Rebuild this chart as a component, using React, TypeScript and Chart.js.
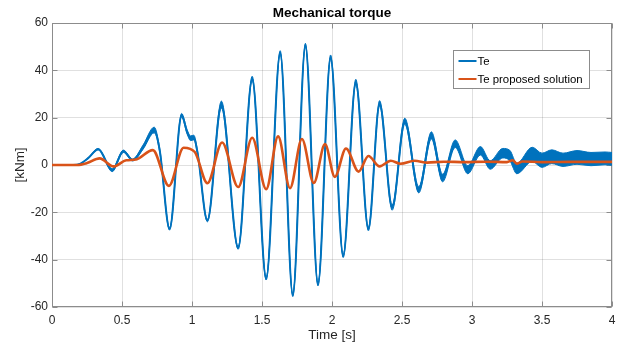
import React, { useEffect, useRef } from "react";
import { Chart, registerables } from "chart.js";

Chart.register(...registerables);

// ---- text ----
const TITLE = "Mechanical torque";
const X_LABEL = "Time [s]";
const Y_LABEL = "[kNm]";
const TE_LABEL = "Te";
const PROP_LABEL = "Te proposed solution";

// ---- axes ----
const xTicks = [0, 0.5, 1, 1.5, 2, 2.5, 3, 3.5, 4];
const yTicks = [-60, -40, -20, 0, 20, 40, 60];

// ---- Te (original) : time [s], torque [kNm], high-frequency ripple half-amplitude [kNm] ----
const teTime = [
  0, 0.15, 0.2, 0.26, 0.33, 0.43, 0.51, 0.576, 0.65, 0.73, 0.77, 0.84,
  0.926, 0.965, 0.99, 1.013, 1.04, 1.11, 1.21, 1.33, 1.43, 1.53, 1.63, 1.72,
  1.81, 1.9, 1.99, 2.08, 2.17, 2.26, 2.34, 2.43, 2.52, 2.62, 2.71, 2.79,
  2.88, 2.97, 3.06, 3.13, 3.22, 3.27, 3.32, 3.43, 3.5, 3.57, 3.65, 3.75,
  3.85, 3.95, 4.0,
];
const teValue = [
  0, 0, 0.5, 3, 6.7, -2.2, 5.8, 2.1, 7.5, 14.8, 6, -27,
  21, 14, 11.3, 11.6, 5, -23.5, 25.5, -35, 36.5, -48, 47.5, -55,
  50.6, -50.5, 45.5, -38.5, 35, -27, 26, -18, 18.5, -10.5, 12.5, -5.5,
  9, -2, 6, 0, 5, 4, -1.5, 4.5, 2, 3.5, 2.2, 3.2,
  2.5, 2.8, 2.6,
];
const teRipple = [
  0, 0, 0, 0.2, 0.3, 0.6, 0.5, 0.4, 0.9, 1.2, 0.8, 0.5,
  0.8, 0.9, 1.0, 1.0, 0.8, 0.5, 1.5, 0.6, 1.0, 0.6, 0.8, 0.6,
  0.8, 0.6, 1.0, 0.6, 1.2, 0.8, 1.2, 1.1, 1.3, 1.3, 1.5, 1.6,
  1.6, 1.7, 1.8, 1.8, 2.0, 2.2, 2.2, 3.0, 3.0, 2.9, 2.8, 2.9,
  2.8, 2.7, 2.7,
];

// ---- Te proposed solution ----
const propTime = [
  0, 0.18, 0.25, 0.34, 0.44, 0.53, 0.6, 0.72, 0.835, 0.94, 1.02, 1.11,
  1.215, 1.33, 1.43, 1.53, 1.615, 1.7, 1.785, 1.87, 1.95, 2.02, 2.1, 2.19,
  2.26, 2.34, 2.42, 2.49, 2.59, 2.68, 2.8, 2.95, 3.1, 3.25, 3.29, 3.32,
  3.36, 3.5, 3.7, 4.0,
];
const propValue = [
  0, 0, 0.8, 2.8, -0.6, 2.0, 2.3, 6.3, -8.8, 7.3, 5.5, -7.7,
  9.5, -9.3, 11.5, -10.2, 12.1, -9.8, 11.0, -7.6, 8.8, -5.0, 7.0, -2.8,
  3.8, -0.6, 1.8, 0.5, 1.8, 1.0, 1.4, 1.2, 1.4, 1.2, 2.0, 0.6,
  1.5, 1.2, 1.3, 1.3,
];

// ---- style ----
const FONT = "'Liberation Sans', Arial, Helvetica, sans-serif";
const BLUE = "#0072BD";
const ORANGE = "#D95319";
const GRID = "rgba(0,0,0,0.12)";
const FRAME = "#8c8c8c";
const TEXT = "#262626";

const framePlugin = {
  id: "matlabFrame",
  beforeDatasetsDraw(chart: any) {
    const { ctx, chartArea: a, scales } = chart;
    const L = Math.round(a.left) + 0.5;
    const R = Math.round(a.right) - 0.5;
    const T = Math.round(a.top) + 0.5;
    const B = Math.round(a.bottom) - 0.5;
    ctx.save();
    ctx.strokeStyle = FRAME;
    ctx.lineWidth = 1;
    ctx.strokeRect(L, T, R - L, B - T);
    const tl = 5;
    ctx.beginPath();
    for (const v of xTicks) {
      const p = Math.round(scales.x.getPixelForValue(v)) + 0.5;
      ctx.moveTo(p, B);
      ctx.lineTo(p, B - tl);
      ctx.moveTo(p, T);
      ctx.lineTo(p, T + tl);
    }
    for (const v of yTicks) {
      const p = Math.round(scales.y.getPixelForValue(v)) + 0.5;
      ctx.moveTo(L, p);
      ctx.lineTo(L + tl, p);
      ctx.moveTo(R, p);
      ctx.lineTo(R - tl, p);
    }
    ctx.stroke();
    ctx.restore();
  },
};

const legendPlugin = {
  id: "matlabLegend",
  afterDraw(chart: any) {
    const { ctx, chartArea: a } = chart;
    const items = chart.data.datasets.filter((d: any) => d.label);
    const w = 136;
    const h = 38;
    const x0 = Math.round(a.right - 23 - w) + 0.5;
    const y0 = Math.round(a.top + 27) + 0.5;
    ctx.save();
    ctx.fillStyle = "#ffffff";
    ctx.fillRect(x0, y0, w, h);
    ctx.strokeStyle = FRAME;
    ctx.lineWidth = 1;
    ctx.strokeRect(x0, y0, w, h);
    ctx.font = `11.4px ${FONT}`;
    ctx.textBaseline = "middle";
    ctx.textAlign = "left";
    items.forEach((d: any, i: number) => {
      const y = y0 + 10.5 + i * 18;
      ctx.strokeStyle = d.borderColor;
      ctx.lineWidth = 2;
      ctx.beginPath();
      ctx.moveTo(x0 + 5, y);
      ctx.lineTo(x0 + 23, y);
      ctx.stroke();
      ctx.fillStyle = "#000";
      ctx.fillText(d.label, x0 + 24, y + 0.5);
    });
    ctx.restore();
  },
};

export default function App() {
  const ref = useRef<HTMLCanvasElement>(null);

  useEffect(() => {
    const canvas = ref.current;
    if (!canvas) return;
    Chart.defaults.font.family = FONT;

    const teMain = teTime.map((t, i) => ({ x: t, y: teValue[i] }));
    const teUpper = teTime.map((t, i) => ({ x: t, y: teValue[i] + teRipple[i] }));
    const teLower = teTime.map((t, i) => ({ x: t, y: teValue[i] - teRipple[i] }));
    const prop = propTime.map((t, i) => ({ x: t, y: propValue[i] }));

    const chart = new Chart(canvas, {
      type: "line",
      data: {
        datasets: [
          {
            label: TE_LABEL,
            data: teMain,
            borderColor: BLUE,
            borderWidth: 2,
            fill: false,
            order: 1,
          },
          {
            label: "",
            data: teUpper,
            borderColor: BLUE,
            borderWidth: 1,
            fill: false,
            order: 2,
          },
          {
            label: "",
            data: teLower,
            borderColor: BLUE,
            backgroundColor: BLUE,
            borderWidth: 1,
            fill: "-1",
            order: 3,
          },
          {
            label: PROP_LABEL,
            data: prop,
            borderColor: ORANGE,
            borderWidth: 2.6,
            fill: false,
            order: 0,
          },
        ],
      },
      options: {
        responsive: false,
        animation: false,
        events: [],
        layout: { padding: { left: 0, right: 14, top: 0, bottom: 0 } },
        elements: {
          point: { radius: 0 },
          line: { cubicInterpolationMode: "monotone" },
        },
        plugins: {
          legend: { display: false },
          tooltip: { enabled: false },
          title: {
            display: true,
            text: TITLE,
            fullSize: false,
            color: "#000",
            font: { size: 13.5, weight: "bold", family: FONT },
            padding: { top: 5.2, bottom: 1.6 },
          },
        },
        scales: {
          x: {
            type: "linear",
            min: 0,
            max: 4,
            afterBuildTicks: (s: any) => {
              s.ticks = xTicks.map((v) => ({ value: v }));
            },
            afterFit: (s: any) => {
              s.height = 42;
            },
            ticks: {
              color: TEXT,
              font: { size: 12, family: FONT },
              padding: 6,
              maxRotation: 0,
              autoSkip: false,
              callback: (v: any) => String(v),
            },
            grid: { color: GRID, drawTicks: false },
            border: { display: false },
            title: {
              display: true,
              text: X_LABEL,
              color: TEXT,
              font: { size: 13.5, family: FONT },
              padding: { top: 0, bottom: 5.9 },
            },
          },
          y: {
            type: "linear",
            min: -60,
            max: 60,
            afterBuildTicks: (s: any) => {
              s.ticks = yTicks.map((v) => ({ value: v }));
            },
            afterFit: (s: any) => {
              s.width = 52;
            },
            ticks: {
              color: TEXT,
              font: { size: 12, family: FONT },
              padding: 4,
              autoSkip: false,
              callback: (v: any) => String(v),
            },
            grid: { color: GRID, drawTicks: false },
            border: { display: false },
            title: {
              display: true,
              text: Y_LABEL,
              color: TEXT,
              font: { size: 13.5, family: FONT },
              padding: { top: 11.9, bottom: 0 },
            },
          },
        },
      },
      plugins: [framePlugin, legendPlugin],
    } as any);

    return () => chart.destroy();
  }, []);

  return (
    <div
      style={{
        position: "absolute",
        left: 0,
        top: 0,
        width: 626,
        height: 349,
        background: "#ffffff",
      }}
    >
      <canvas
        ref={ref}
        width={626}
        height={349}
        style={{ display: "block", width: 626, height: 349 }}
      />
    </div>
  );
}
